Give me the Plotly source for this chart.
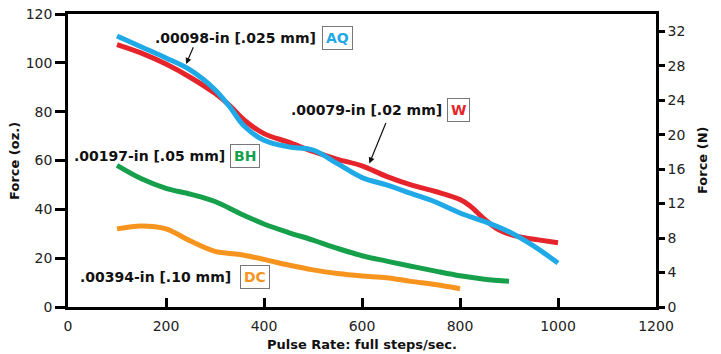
import plotly.graph_objects as go

# ---- data ----
aq_x = [100, 150, 200, 250, 300, 330, 360, 400, 450, 500, 550, 600, 650, 700, 750, 800, 850, 900, 950, 1000]
aq_y = [111, 106.5, 102, 97, 89, 82, 74, 68.3, 65.6, 64.3, 58.7, 53, 50, 46.5, 43, 38.5, 35, 30.8, 25, 18]

w_x = [100, 150, 200, 250, 300, 330, 360, 400, 450, 500, 550, 600, 650, 700, 750, 800, 820, 850, 880, 920, 960, 1000]
w_y = [107.5, 104, 99.5, 94, 87.5, 82.5, 76.5, 71, 67.5, 63.7, 60.5, 57.8, 53.5, 50, 47.3, 44, 41.5, 36, 31.5, 28.8, 27.5, 26.3]

bh_x = [100, 150, 200, 250, 300, 350, 400, 450, 500, 550, 600, 650, 700, 750, 800, 850, 900]
bh_y = [58, 52.5, 48.6, 46.2, 43.2, 38.4, 34, 30.5, 27.4, 24, 21, 18.8, 16.7, 14.7, 12.8, 11.4, 10.5]

dc_x = [100, 150, 200, 250, 300, 350, 400, 450, 500, 550, 600, 650, 700, 750, 800]
dc_y = [32, 33.2, 32, 27, 22.8, 21.5, 19.5, 17.2, 15.2, 13.7, 12.7, 12, 10.5, 9.2, 7.5]

labels = [".00098-in [.025 mm]", ".00079-in [.02 mm]", ".00197-in [.05 mm]", ".00394-in [.10 mm]"]
codes = ["AQ", "W", "BH", "DC"]

x_ticks = [0, 200, 400, 600, 800, 1000, 1200]
oz_ticks = [0, 20, 40, 60, 80, 100, 120]
n_ticks = [0, 4, 8, 12, 16, 20, 24, 28, 32]

# ---- styling ----
C_AQ = "#1fa9e6"
C_W = "#e5242b"
C_BH = "#17a04b"
C_DC = "#f7941e"
FONT = "DejaVu Sans"

fig = go.Figure()
for xs, ys, col in [(w_x, w_y, C_W), (aq_x, aq_y, C_AQ), (bh_x, bh_y, C_BH), (dc_x, dc_y, C_DC)]:
    fig.add_trace(go.Scatter(x=xs, y=ys, mode="lines",
                             line=dict(color=col, width=5, shape="spline", smoothing=1.0),
                             showlegend=False, hoverinfo="skip"))
# dummy trace for right axis
fig.add_trace(go.Scatter(x=[None], y=[None], yaxis="y2", showlegend=False))

ann = []
pos = [(510, 110.2, 519, C_AQ), (767, 80.7, 774, C_W), (324, 61.8, 330, C_BH), (337, 12.3, 352, C_DC)]
for lab, code, (tx, ty, bx, col) in zip(labels, codes, pos):
    ann.append(dict(x=tx, y=ty, xref="x", yref="y", text="<b>" + lab + "</b>", showarrow=False,
                    xanchor="right", yanchor="middle", font=dict(family=FONT, size=14, color="#111")))
    ann.append(dict(x=bx, y=ty, xref="x", yref="y", text="<b>" + code + "</b>", showarrow=False,
                    xanchor="left", yanchor="middle", font=dict(family=FONT, size=14, color=col),
                    bordercolor="#777", borderwidth=1, borderpad=3, bgcolor="white"))

# arrows
ann.append(dict(x=241, y=99.5, ax=257, ay=107, xref="x", yref="y", axref="x", ayref="y",
                text="", showarrow=True, arrowhead=2, arrowsize=1, arrowwidth=1.2, arrowcolor="#111"))
ann.append(dict(x=615, y=58.8, ax=650, ay=76, xref="x", yref="y", axref="x", ayref="y",
                text="", showarrow=True, arrowhead=2, arrowsize=1, arrowwidth=1.2, arrowcolor="#111"))

# axis titles
ann.append(dict(x=0.5, y=-0.095, xref="paper", yref="paper", text="<b>Pulse Rate: full steps/sec.</b>",
                showarrow=False, xanchor="center", yanchor="top", font=dict(family=FONT, size=13, color="#111")))
ann.append(dict(x=-0.075, y=0.5, xref="paper", yref="paper", text="<b>Force (oz.)</b>", textangle=-90,
                showarrow=False, xanchor="right", yanchor="middle", font=dict(family=FONT, size=13, color="#111")))
ann.append(dict(x=1.063, y=0.5, xref="paper", yref="paper", text="<b>Force (N)</b>", textangle=-90,
                showarrow=False, xanchor="left", yanchor="middle", font=dict(family=FONT, size=13, color="#111")))

fig.update_layout(
    width=721, height=354,
    margin=dict(l=68, r=65, t=14, b=47, autoexpand=False),
    paper_bgcolor="white", plot_bgcolor="white",
    font=dict(family=FONT, size=14, color="#222"),
    xaxis=dict(range=[0, 1200], tickvals=x_ticks, showgrid=False, zeroline=False,
               showline=True, linecolor="black", linewidth=2.5, mirror=True,
               ticks="inside", ticklen=9, tickwidth=2.5, tickcolor="black",
               ticklabelstandoff=4, automargin=False),
    yaxis=dict(range=[0, 120], tickvals=oz_ticks, showgrid=False, zeroline=False,
               showline=True, linecolor="black", linewidth=2.5, automargin=False,
               ticks="outside", ticklen=10, tickwidth=2.5, tickcolor="black"),
    yaxis2=dict(range=[0, 34], tickvals=n_ticks, overlaying="y", side="right", showgrid=False,
                zeroline=False, showline=True, linecolor="black", linewidth=2.5, automargin=False,
                ticks="outside", ticklen=6, tickwidth=2.5, tickcolor="black"),
    annotations=ann,
)

fig.write_html("out.html", config={"displayModeBar": False},
               post_script="document.body.style.margin='0';document.body.style.overflow='hidden';")
